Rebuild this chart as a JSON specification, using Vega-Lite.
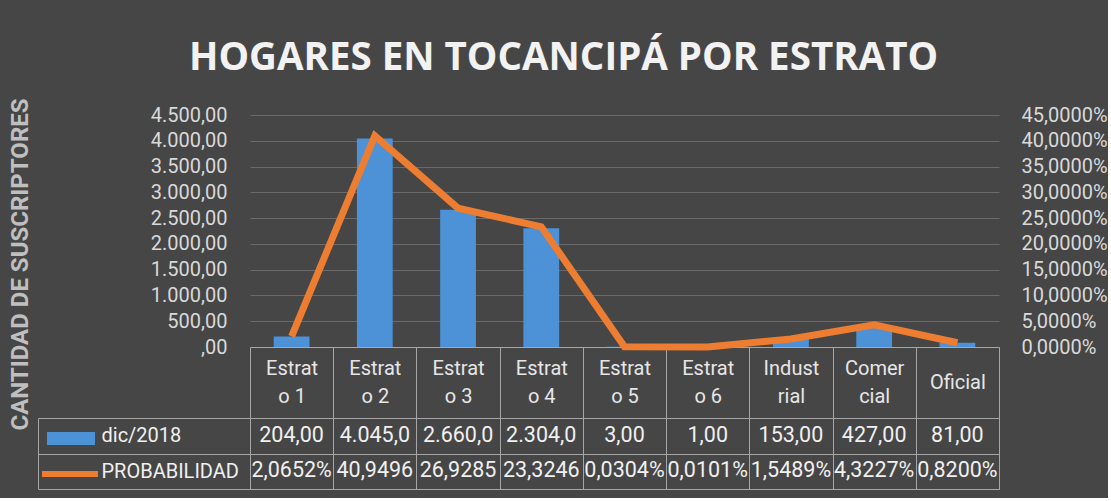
{
  "$schema": "https://vega.github.io/schema/vega-lite/v6.json",
  "background": "#464646",
  "padding": {"left": 8, "top": 39, "right": 0, "bottom": 8},
  "config": {
    "locale": {"number": {"decimal": ",", "thousands": ".", "grouping": [3], "currency": ["", ""], "percent": "%"}},
    "font": "Roboto",
    "view": {"stroke": null},
    "axis": {"labelFont": "Roboto", "titleFont": "Roboto"}
  },
  "title": {"text": "HOGARES EN TOCANCIPÁ POR ESTRATO", "font": "Open Sans", "fontSize": 38.5, "fontWeight": "bold", "color": "#f2f2f2", "anchor": "middle", "offset": 19, "dx": 6},
  "datasets": {
    "d": [
      {"cat": "Estrato 1", "count": 204, "prob": 0.020652},
      {"cat": "Estrato 2", "count": 4045, "prob": 0.409496},
      {"cat": "Estrato 3", "count": 2660, "prob": 0.269285},
      {"cat": "Estrato 4", "count": 2304, "prob": 0.233246},
      {"cat": "Estrato 5", "count": 3, "prob": 0.000304},
      {"cat": "Estrato 6", "count": 1, "prob": 0.000101},
      {"cat": "Industrial", "count": 153, "prob": 0.015489},
      {"cat": "Comercial", "count": 427, "prob": 0.043227},
      {"cat": "Oficial", "count": 81, "prob": 0.0082}
    ]
  },
  "spacing": 71,
  "bounds": "flush",
  "resolve": {"scale": {"fill": "independent", "stroke": "independent"}},
  "vconcat": [
    {
      "width": 749,
      "height": 232,
      "data": {"name": "d"},
      "encoding": {
        "x": {
          "field": "cat", "type": "nominal", "sort": null,
          "scale": {"paddingInner": 0, "paddingOuter": 0},
          "axis": {
            "title": null, "orient": "bottom", "tickBand": "extent", "tickSize": 71,
            "tickColor": "#a6a6a6", "tickWidth": 1, "domainColor": "#a6a6a6",
            "labelAngle": 0, "labelBaseline": "middle",
            "labelPadding": {"condition": {"test": "datum.value == 'Oficial'", "value": -35.5}, "value": -50},
            "labelFontSize": 20, "labelColor": "#e6e6e6", "labelLineHeight": 28,
            "labelOverlap": false, "grid": false,
            "labelExpr": "datum.label == 'Comercial' ? ['Comer', 'cial'] : (length(datum.label) > 7 ? [substring(datum.label, 0, 6), substring(datum.label, 6)] : datum.label)"
          }
        }
      },
      "layer": [
        {
          "mark": {"type": "bar", "width": {"band": 0.43}},
          "encoding": {
            "y": {
              "field": "count", "type": "quantitative",
              "scale": {"domain": [0, 4500]},
              "axis": {
                "title": "CANTIDAD DE SUSCRIPTORES", "titleX": -223, "titleY": 149, "titleAngle": 270,
                "titleBaseline": "alphabetic", "titleAlign": "center",
                "titleFontSize": 24, "titleFontWeight": "bold", "titleColor": "#bfbfbf",
                "values": [0, 500, 1000, 1500, 2000, 2500, 3000, 3500, 4000, 4500],
                "format": ",.2f", "labelExpr": "datum.value == 0 ? ',00' : datum.label",
                "labelFontSize": 20, "labelColor": "#d9d9d9", "labelPadding": 23,
                "domain": false, "ticks": false, "grid": true, "gridColor": "#6a6a6a"
              }
            },
            "fill": {
              "datum": "dic/2018", "type": "nominal",
              "scale": {"range": ["#4d91d6"]},
              "legend": {"orient": "none", "legendX": -203, "legendY": 299.5, "title": null,
                "symbolType": "M-1,-0.27H1V0.27H-1Z", "symbolSize": 2304, "symbolStrokeWidth": 0, "labelExpr": "''"}
            }
          }
        },
        {
          "mark": {"type": "line", "strokeWidth": 7, "strokeJoin": "miter"},
          "encoding": {
            "y": {
              "field": "prob", "type": "quantitative",
              "scale": {"domain": [0, 0.45]},
              "axis": {
                "orient": "right", "title": null, "format": ".4%",
                "values": [0, 0.05, 0.1, 0.15, 0.2, 0.25, 0.3, 0.35, 0.4, 0.45],
                "labelFontSize": 20, "labelColor": "#d9d9d9", "labelPadding": 22,
                "domain": false, "ticks": false, "grid": false
              }
            },
            "stroke": {
              "datum": "PROBABILIDAD", "type": "nominal",
              "scale": {"range": ["#ed7d31"]},
              "legend": {"orient": "none", "legendX": -211, "legendY": 328, "title": null,
                "symbolType": "stroke", "symbolSize": 3136, "symbolStrokeWidth": 6, "labelExpr": "''"}
            }
          }
        }
      ],
      "resolve": {"scale": {"y": "independent"}}
    },
    {
      "width": 749,
      "height": 71,
      "view": {"stroke": "#a6a6a6"},
      "data": {"name": "d"},
      "encoding": {
        "x": {
          "field": "cat", "type": "nominal", "sort": null,
          "scale": {"paddingInner": 0, "paddingOuter": 0},
          "axis": {"title": null, "labels": false, "ticks": false, "domain": false, "grid": true, "tickBand": "extent", "gridColor": "#a6a6a6"}
        }
      },
      "layer": [
        {
          "mark": {"type": "text", "fontSize": 21.5, "color": "#f0f0f0", "limit": 81, "ellipsis": "\u200b"},
          "encoding": {
            "y": {
              "datum": "dic/2018", "type": "nominal",
              "scale": {"type": "band", "domain": ["dic/2018", "PROBABILIDAD"], "paddingInner": 0, "paddingOuter": 0},
              "axis": {
                "title": null, "orient": "left", "offset": 212, "tickSize": -212, "tickBand": "extent",
                "tickColor": "#a6a6a6", "domainColor": "#a6a6a6", "grid": true, "gridColor": "#a6a6a6",
                "labelAlign": "left", "labelPadding": 149, "labelFontSize": 20, "labelColor": "#f0f0f0", "labelBaseline": "middle"
              }
            },
            "text": {"field": "count", "type": "quantitative", "format": ",.2f"}
          }
        },
        {
          "mark": {"type": "text", "fontSize": 21.5, "color": "#f0f0f0", "limit": 81, "ellipsis": "\u200b"},
          "encoding": {
            "y": {"datum": "PROBABILIDAD", "type": "nominal"},
            "text": {"field": "prob", "type": "quantitative", "format": ".4%"}
          }
        }
      ]
    }
  ]
}
